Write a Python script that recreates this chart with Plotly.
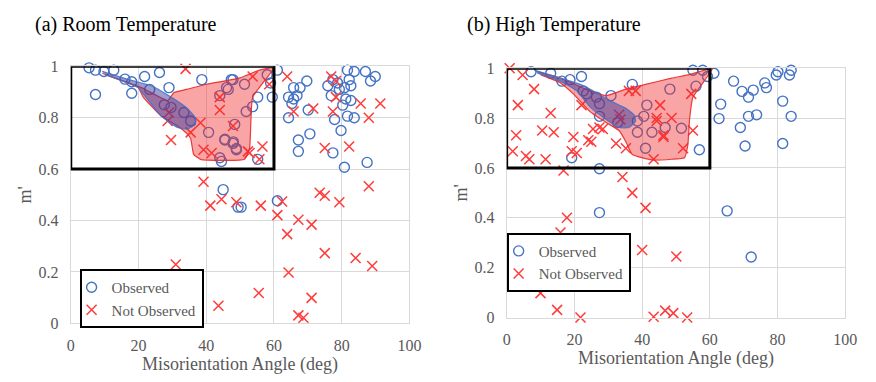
import plotly.graph_objects as go

# ---------------- data: (a) Room Temperature ----------------
rt_obs_x = [5.4, 7.3, 9.8, 12.7, 7.3, 16, 18, 18, 21.8, 26.2, 23.3, 29, 38.7, 47.4, 44, 46.5,
            27.6, 29.6, 33.4, 35.4, 40.7, 45.5, 48, 48.9, 44, 44.5,
            47.9, 51.3, 46, 55.2, 53.7, 51.8, 45.5, 48.4, 47.9, 48.9, 55.2, 58, 59, 59.5, 61,
            65.8, 67.7, 69.7, 64.3, 65.8, 66.8, 65.3, 64.3, 70.1, 70.6, 67.2, 67.2,
            75.9, 77.4, 78.8, 81.7, 83.7, 87, 89.9, 82.2, 82.7, 88.5, 76.9, 79.3, 80.8,
            81.2, 82.7, 80.3, 77.9, 81.7, 83.7, 79.8, 77.4, 80.8, 87.5,
            45, 49.4, 50.3, 61]
rt_obs_y = [0.994, 0.985, 0.98, 0.985, 0.89, 0.95, 0.94, 0.895, 0.96, 0.976, 0.91, 0.917, 0.948, 0.948, 0.886, 0.91,
            0.85, 0.84, 0.82, 0.787, 0.743, 0.716, 0.706, 0.68, 0.644, 0.63,
            0.948, 0.93, 0.917, 0.88, 0.843, 0.824, 0.713, 0.774, 0.7, 0.675, 0.638, 0.967, 0.935, 0.88, 0.985,
            0.917, 0.917, 0.943, 0.88, 0.873, 0.886, 0.855, 0.8, 0.83, 0.737, 0.713, 0.669,
            0.924, 0.948, 0.935, 0.985, 0.98, 0.98, 0.96, 0.948, 0.924, 0.943, 0.886, 0.91, 0.917,
            0.873, 0.867, 0.849, 0.793, 0.806, 0.8, 0.75, 0.663, 0.607, 0.626,
            0.52, 0.452, 0.452, 0.477]

rt_not_x = [33.9, 44, 44, 29, 28.6, 29.6, 38.3, 35.4, 47.9, 39.2, 41.6, 39.2,
            53.7, 58.6, 56.6, 52.3, 52.8, 55.7, 63.9, 65.8, 71.6, 76.9, 78.3, 78.3, 77.4,
            85.6, 91.4, 88, 75, 82.2, 88,
            44.5, 41.2, 48.9, 31, 43.6, 56.1, 62.4, 61, 67.2, 71.1, 63.9, 73.5, 75, 79.3,
            75, 84.1, 89, 64.3, 55.5, 71.1, 67.2, 68.7]
rt_not_y = [0.99, 0.88, 0.83, 0.82, 0.787, 0.713, 0.78, 0.743, 0.768, 0.675, 0.663, 0.551,
            0.96, 0.93, 0.688, 0.669, 0.663, 0.638, 0.96, 0.824, 0.836, 0.96, 0.943, 0.88, 0.824,
            0.855, 0.855, 0.8, 0.682, 0.688, 0.533,
            0.483, 0.458, 0.471, 0.229, 0.068, 0.458, 0.474, 0.421, 0.403, 0.384, 0.347, 0.508, 0.496, 0.471,
            0.273, 0.254, 0.223, 0.198, 0.118, 0.099, 0.031, 0.022]

# outlined regions (a)
rt_red_region_x = [9.3, 20.9, 28.6, 30.5, 34.4, 40, 50, 55.7, 60, 53.7, 53.2, 52.8, 51.3,
                   38.3, 36.3, 35.4, 34.4, 31.5, 26.7, 21.4, 19.9, 10.2]
rt_red_region_y = [0.973, 0.917, 0.867, 0.898, 0.911, 0.93, 0.955, 0.985, 0.995, 0.88, 0.793, 0.682, 0.638,
                   0.638, 0.657, 0.719, 0.737, 0.768, 0.806, 0.88, 0.917, 0.967]
rt_blue_region_x = [9.3, 17, 23.8, 29.6, 34.4, 36.8, 36.8, 34.4, 31.5, 26.7, 21.8, 19.9, 10.2]
rt_blue_region_y = [0.98, 0.948, 0.924, 0.88, 0.836, 0.8, 0.774, 0.756, 0.762, 0.806, 0.886, 0.917, 0.967]

# ---------------- data: (b) High Temperature ----------------
ht_obs_x = [7.2, 13, 16.3, 18.7, 22.1, 37.1, 22.6, 23.6, 26.5, 27.4, 30.8, 27.4, 32.8, 41.4, 40.5,
            38.6, 38.6, 42.9, 41, 46.8, 19.2, 27.4,
            55, 57.9, 61.2, 59.3, 55.9, 48.2, 67, 69.5, 72.8, 71.4, 76.2, 76.7, 80.1, 79.6, 84, 83.5,
            63.2, 62.7, 71.4, 73.8, 69, 81.5, 84, 70.4, 81.5, 56.9, 51.6,
            27.4, 65.1, 72.2]
ht_obs_y = [0.986, 0.98, 0.948, 0.954, 0.967, 0.935, 0.909, 0.897, 0.884, 0.858, 0.89, 0.807, 0.782, 0.852, 0.807,
            0.788, 0.743, 0.743, 0.679, 0.762, 0.641, 0.597,
            0.992, 0.992, 0.98, 0.967, 0.928, 0.916, 0.948, 0.907, 0.912, 0.884, 0.941, 0.922, 0.986, 0.973, 0.992, 0.973,
            0.856, 0.798, 0.807, 0.813, 0.762, 0.868, 0.807, 0.688, 0.698, 0.673, 0.759,
            0.421, 0.428, 0.243]

ht_not_x = [0.9, 4.7, 8.1, 3.3, 13, 2.8, 10.5, 13.9, 1.8, 5.7, 6.7, 11.5, 19.7, 19.2, 20.7, 24.1, 25,
            25.5, 27.4, 28.4, 16.8, 32.3, 35.2, 34.2, 36.1, 38.1, 33.2, 33.6, 44.3, 45.3, 46.3, 43.4, 22.1,
            54.5, 44.3, 48.7, 46.3, 55, 52.1,
            37.1, 41, 17.8, 15.9, 40, 8.6, 10, 14.9, 21.8, 43.4, 46.8, 49.2, 53.3, 50.1]
ht_not_y = [1.0, 0.973, 0.916, 0.852, 0.82, 0.731, 0.75, 0.743, 0.667, 0.648, 0.635, 0.635, 0.724, 0.667, 0.66, 0.711, 0.705,
            0.756, 0.762, 0.756, 0.59, 0.698, 0.679, 0.564, 0.909, 0.909, 0.813, 0.794, 0.8, 0.852, 0.731, 0.635, 0.852,
            0.897, 0.788, 0.8, 0.724, 0.75, 0.679,
            0.5, 0.44, 0.4, 0.341, 0.271, 0.124, 0.098, 0.031, 0.0, 0.003, 0.028, 0.018, 0.0, 0.245]

ht_red_region_x = [9.1, 15.9, 24.6, 29.4, 35.2, 41, 48.7, 53.5, 60.8, 58.3, 55, 54, 53.5, 52.5,
                   48.7, 42.9, 37.1, 35.2, 33.2, 29.4, 24.6, 19.7, 15.9, 10.1]
ht_red_region_y = [0.986, 0.96, 0.909, 0.89, 0.916, 0.935, 0.96, 0.973, 0.999, 0.948, 0.884, 0.794, 0.692, 0.641,
                   0.635, 0.632, 0.654, 0.705, 0.75, 0.782, 0.826, 0.897, 0.941, 0.973]
ht_blue_region_x = [8.1, 15.9, 21.7, 25.5, 30.3, 35.2, 37.6, 38.1, 36.1, 33.2, 29.4, 24.6, 20.7, 15.9, 9.1]
ht_blue_region_y = [0.992, 0.96, 0.935, 0.909, 0.871, 0.839, 0.813, 0.788, 0.762, 0.762, 0.794, 0.845, 0.909, 0.948, 0.98]

# highlighted window (angle range, m' range)
box_angle = [0, 60]
box_mprime = [0.6, 1.0]

x_ticks = [0, 20, 40, 60, 80, 100]
y_ticks = [0, 0.2, 0.4, 0.6, 0.8, 1]

# ---------------- style ----------------
SERIF = "Liberation Serif, Times New Roman, Times, DejaVu Serif, serif"
BLUE = "#4472C4"
RED = "#FF3B3B"
GRID = "#D9D9D9"
GRAY = "#595959"

fig = go.Figure()

panels = [
    dict(xa="x", ya="y", legend="legend", obs=(rt_obs_x, rt_obs_y), nob=(rt_not_x, rt_not_y),
         red=(rt_red_region_x, rt_red_region_y), blue=(rt_blue_region_x, rt_blue_region_y)),
    dict(xa="x2", ya="y2", legend="legend2", obs=(ht_obs_x, ht_obs_y), nob=(ht_not_x, ht_not_y),
         red=(ht_red_region_x, ht_red_region_y), blue=(ht_blue_region_x, ht_blue_region_y)),
]

for p in panels:
    fig.add_trace(go.Scatter(
        x=p["obs"][0], y=p["obs"][1], mode="markers", name="Observed",
        xaxis=p["xa"], yaxis=p["ya"], legend=p["legend"], cliponaxis=False,
        marker=dict(symbol="circle-open", size=10, color=BLUE, line=dict(width=1.4, color=BLUE)),
    ))
    fig.add_trace(go.Scatter(
        x=p["nob"][0], y=p["nob"][1], mode="markers", name="Not Observed",
        xaxis=p["xa"], yaxis=p["ya"], legend=p["legend"], cliponaxis=False,
        marker=dict(symbol="x-thin-open", size=10, color=RED, line=dict(width=1.5, color=RED)),
    ))
    fig.add_trace(go.Scatter(
        x=p["red"][0], y=p["red"][1], mode="lines", fill="toself", showlegend=False,
        xaxis=p["xa"], yaxis=p["ya"], hoverinfo="skip",
        line=dict(color="rgba(235,40,40,0.9)", width=1.2, shape="spline", smoothing=0.4),
        fillcolor="rgba(240,40,40,0.42)",
    ))
    fig.add_trace(go.Scatter(
        x=p["blue"][0], y=p["blue"][1], mode="lines", fill="toself", showlegend=False,
        xaxis=p["xa"], yaxis=p["ya"], hoverinfo="skip",
        line=dict(color="rgba(68,114,196,0.9)", width=1.2, shape="spline", smoothing=0.4),
        fillcolor="rgba(60,60,160,0.5)",
    ))
    fig.add_shape(type="rect", xref=p["xa"], yref=p["ya"],
                  x0=box_angle[0], x1=box_angle[1], y0=box_mprime[0], y1=box_mprime[1],
                  line=dict(color="black", width=3), layer="above")

W, H = 876, 382

def xdom(a, b):
    return [a / W, b / W]

def ydom(top, bottom):
    return [1 - bottom / H, 1 - top / H]

axis_common = dict(
    showgrid=True, gridcolor=GRID, gridwidth=1, zeroline=False,
    showline=True, linecolor=GRID, linewidth=1, mirror=True,
    ticks="outside", tickcolor="rgba(0,0,0,0)",
    tickfont=dict(family=SERIF, size=16, color=GRAY),
)

xaxis_common = dict(axis_common, range=[0, 100], tickvals=x_ticks, ticklen=7,
                    title=dict(text="Misorientation Angle (deg)", font=dict(family=SERIF, size=18, color=GRAY), standoff=1))
yaxis_common = dict(axis_common, range=[0, 1], tickvals=y_ticks, ticklen=8,
                    title=dict(text="m'", font=dict(family=SERIF, size=18, color=GRAY), standoff=2))

legend_common = dict(
    bgcolor="white", bordercolor="black", borderwidth=2,
    font=dict(family=SERIF, size=15, color=GRAY),
    xanchor="left", yanchor="middle", itemwidth=30, tracegroupgap=0,
    indentation=-10,
)

fig.update_layout(
    width=W, height=H, margin=dict(l=0, r=0, t=0, b=0),
    paper_bgcolor="white", plot_bgcolor="white",
    xaxis=dict(xaxis_common, domain=xdom(68, 413), anchor="y"),
    yaxis=dict(yaxis_common, domain=ydom(61, 330), anchor="x"),
    xaxis2=dict(xaxis_common, domain=xdom(512, 857), anchor="y2"),
    yaxis2=dict(yaxis_common, domain=ydom(63, 324), anchor="x2"),
    legend=dict(legend_common, x=77 / W, y=1 - 304 / H),
    legend2=dict(legend_common, x=512 / W, y=1 - 266 / H),
    annotations=[
        dict(text="(a) Room Temperature", x=30 / W, y=1 - 17 / H, xref="paper", yref="paper",
             xanchor="left", yanchor="middle", showarrow=False,
             font=dict(family=SERIF, size=20, color="black")),
        dict(text="(b) High Temperature", x=470 / W, y=1 - 17 / H, xref="paper", yref="paper",
             xanchor="left", yanchor="middle", showarrow=False,
             font=dict(family=SERIF, size=20, color="black")),
    ],
)

fig.write_html("out.html")
